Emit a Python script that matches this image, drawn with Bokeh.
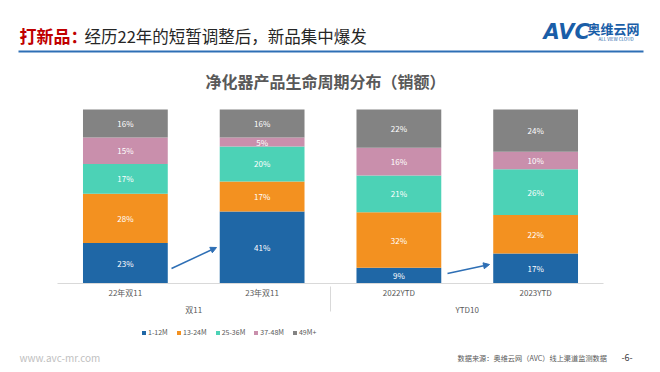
from bokeh.plotting import figure
from bokeh.layouts import column
from bokeh.models import (ColumnDataSource, FactorRange, Range1d, Label, Legend,
                          LegendItem, Arrow, NormalHead)
from bokeh.core.properties import value
from bokeh.embed import file_html
from bokeh.resources import INLINE

# ---- data ----
groups = ["双11", "双11", "YTD10", "YTD10"]
periods = ["22年双11", "23年双11", "2022YTD", "2023YTD"]
series = ["1-12M", "13-24M", "25-36M", "37-48M", "49M+"]
s_1_12 = [23, 41, 9, 17]
s_13_24 = [28, 17, 32, 22]
s_25_36 = [17, 20, 21, 26]
s_37_48 = [15, 5, 16, 10]
s_49p = [16, 16, 22, 24]
colors = ["#1f67a6", "#f39120", "#4cd2b6", "#c98fac", "#838383"]

values = [s_1_12, s_13_24, s_25_36, s_37_48, s_49p]
factors = list(zip(groups, periods))
totals = [sum(v[i] for v in values) for i in range(len(factors))]

keys = ["s%d" % k for k in range(len(series))]
data = {"x": factors}
for k, v in zip(keys, values):
    data[k] = [v[i] / totals[i] for i in range(len(factors))]
src = ColumnDataSource(data)

lx, ly, lt = [], [], []
for i, f in enumerate(factors):
    base = 0.0
    for v in values:
        share = v[i] / totals[i]
        lx.append(f)
        ly.append(base + share / 2)
        lt.append("%d%%" % v[i])
        base += share
lsrc = ColumnDataSource(dict(x=lx, y=ly, t=lt))

FONT = "Noto Sans CJK SC"
W = 652
H = 368
FRAME_H = 283      # frame: canvas top down to the axis line
BAR_H = 174        # pixel height of a 100% bar
TOP_H = 324

def xr():
    return FactorRange(*factors, group_padding=0, factor_padding=0,
                       range_padding=0.3547, range_padding_units="absolute")

p = figure(x_range=xr(), y_range=Range1d(0, FRAME_H / BAR_H), width=W, height=TOP_H,
           min_border_left=8, min_border_right=0, min_border_top=0,
           min_border_bottom=TOP_H - FRAME_H,
           output_backend="svg", toolbar_location=None, y_axis_location=None,
           outline_line_color=None, background_fill_color="white")
p.xgrid.visible = False
p.ygrid.visible = False

rs = p.vbar_stack(keys, x="x", width=0.62, color=colors, line_color=None, source=src)
p.text(x="x", y="y", text="t", source=lsrc, text_color="white",
       text_font_size=value("8px"), text_align="center", text_baseline="middle",
       text_font=value(FONT))

ax = p.xaxis[0]
ax.bounds = (0, len(factors))
ax.axis_line_color = "#d9d9d9"
ax.major_tick_line_color = None
ax.minor_tick_line_color = None
ax.major_tick_out = 0
ax.major_label_text_font_size = "8px"
ax.major_label_text_color = "#595959"
ax.major_label_text_font = FONT
ax.group_text_font_size = "8px"
ax.group_text_color = "#595959"
ax.group_text_font = FONT
ax.group_text_font_style = "normal"
ax.major_label_standoff = 3
ax.separator_line_color = "#d9d9d9"
ax.separator_line_width = 1

def lab(fig, x, y, text, size, color, style="normal", align="left", font=FONT):
    fig.add_layout(Label(x=x, y=y, x_units="screen", y_units="screen", text=text,
                         text_font_size=size, text_color=color, text_font=font,
                         text_font_style=style, text_baseline="middle", text_align=align))

# header
lab(p, 11, 248, "打新品：", "17px", "#c00000", "bold")
lab(p, 76, 248, "经历22年的短暂调整后，新品集中爆发", "16.5px", "#262626")
p.add_layout(Arrow(start=None, end=None, x_start=10, y_start=232, x_end=635, y_end=232,
                   start_units="screen", end_units="screen", line_color="#2e6fb5", line_width=2))
# logo
lab(p, 535, 252, "AVC", "21px", "#1a5ea8", "bold italic", font="DejaVu Sans")
lab(p, 579, 255, "奥维云网", "13px", "#1a5ea8", "bold")
lab(p, 590, 245, "ALL VIEW CLOUD", "4.5px", "#1a5ea8")

# chart title
lab(p, 317, 203, "净化器产品生命周期分布（销额）", "16px", "#595959", "bold", "center")

# arrows
head = dict(size=6, fill_color="#2e6fb5", line_color="#2e6fb5")
p.add_layout(Arrow(end=NormalHead(**head), x_start=163, y_start=15, x_end=208, y_end=36,
                   start_units="screen", end_units="screen", line_color="#2e6fb5", line_width=1.5))
p.add_layout(Arrow(end=NormalHead(**head), x_start=439, y_start=10, x_end=481, y_end=19,
                   start_units="screen", end_units="screen", line_color="#2e6fb5", line_width=1.5))

# bottom figure: legend + footer
FOOT_H = H - TOP_H
f = figure(x_range=xr(), y_range=Range1d(5, 6), width=W, height=FOOT_H,
           min_border_left=8, min_border_right=0, min_border_top=0, min_border_bottom=0,
           output_backend="svg", toolbar_location=None,
           x_axis_location=None, y_axis_location=None, outline_line_color=None)
f.xgrid.visible = False
f.ygrid.visible = False
frs = f.vbar_stack(keys, x="x", width=0.62, color=colors, line_color=None, source=src)
legend = Legend(items=[LegendItem(label=s, renderers=[r]) for s, r in zip(series, frs)],
                orientation="horizontal", location=(133, 31),
                label_text_font_size="7px", label_text_color="#595959", label_text_font=FONT,
                glyph_width=5, glyph_height=5, label_standoff=2, spacing=8,
                padding=0, margin=0, border_line_color=None, background_fill_alpha=0,
                label_height=8)
f.add_layout(legend)
lab(f, 11, 11, "www.avc-mr.com", "10px", "#bfbfbf")
lab(f, 449, 11, "数据来源：奥维云网（AVC）线上渠道监测数据", "7.2px", "#595959")
lab(f, 613, 11, "-6-", "9px", "#404040")

layout = column(p, f, spacing=0)
open("out.html", "w").write(file_html(layout, INLINE))
